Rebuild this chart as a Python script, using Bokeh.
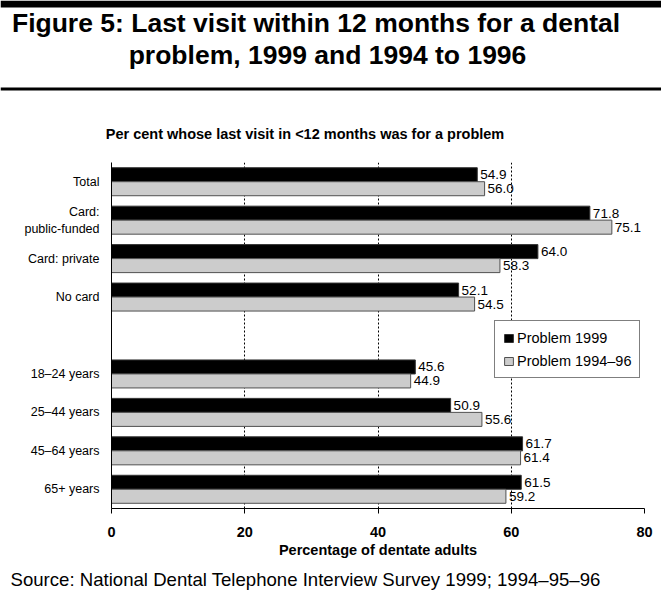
from bokeh.plotting import figure
from bokeh.layouts import column
from bokeh.models import (Range1d, FactorRange, FixedTicker, Label,
                          Legend, LegendItem, ColumnDataSource)
from bokeh.transform import dodge
from bokeh.core.properties import value
from bokeh.embed import file_html
from bokeh.resources import INLINE

# ---------------- data ----------------
categories = ["Total", "Card:\npublic-funded", "Card: private", "No card",
              "18\u201324 years", "25\u201344 years", "45\u201364 years", "65+ years"]
slots = ["Total", "Card:\npublic-funded", "Card: private", "No card", " ",
         "18\u201324 years", "25\u201344 years", "45\u201364 years", "65+ years"]
problem_1999 = [54.9, 71.8, 64.0, 52.1, 45.6, 50.9, 61.7, 61.5]
problem_1994_96 = [56.0, 75.1, 58.3, 54.5, 44.9, 55.6, 61.4, 59.2]
x_ticks = [0, 20, 40, 60, 80]
series_names = ["Problem 1999", "Problem 1994\u201396"]

title_1 = "Figure 5: Last visit within 12 months for a dental"
title_2 = "problem, 1999 and 1994 to 1996"
subtitle = "Per cent whose last visit in <12 months was for a problem"
x_label = "Percentage of dentate adults"
source_text = "Source:  National Dental Telephone Interview Survey 1999; 1994\u201395\u201396"

FONT = "Liberation Sans"
W = 661
H_HEAD, H_MAIN, H_FOOT = 150, 417, 40


def blank_fig(h):
    f = figure(width=W, height=h, x_range=Range1d(0, W), y_range=Range1d(h, 0),
               x_axis_type=None, y_axis_type=None,
               output_backend="svg", toolbar_location=None,
               min_border=0, min_border_left=0, min_border_right=0,
               min_border_top=0, min_border_bottom=0, frame_align=False)
    f.outline_line_color = None
    f.grid.visible = False
    f.background_fill_color = "white"
    f.border_fill_color = "white"
    return f


# ---------------- header ----------------
head = blank_fig(H_HEAD)
# horizontal rules (decoration, in header pixel space)
head.quad(left=[0, 0], right=[W, W], top=[0, 87], bottom=[7, 90],
          fill_color="black", line_color=None)
head.add_layout(Label(x=315.5, y=22, text=title_1, text_align="center",
                      text_baseline="alphabetic", text_font=FONT, text_font_style="bold",
                      text_font_size="26.5px", text_color="black"))
head.add_layout(Label(x=327, y=54, text=title_2, text_align="center",
                      text_baseline="alphabetic", text_font=FONT, text_font_style="bold",
                      text_font_size="26.5px", text_color="black"))
head.add_layout(Label(x=304.5, y=133.5, text=subtitle, text_align="center",
                      text_baseline="alphabetic", text_font=FONT, text_font_style="bold",
                      text_font_size="14.5px", text_color="black"))

# ---------------- main chart ----------------
src = ColumnDataSource(dict(
    cat=categories,
    v99=problem_1999,
    v96=problem_1994_96,
    t99=[f"{v:.1f}" for v in problem_1999],
    t96=[f"{v:.1f}" for v in problem_1994_96],
))

BL, BR, BT = 111, 17, 12
FH = 346
BB = H_MAIN - BT - FH

p = figure(width=W, height=H_MAIN, x_range=Range1d(0, 80),
           y_range=FactorRange(factors=list(reversed(slots))),
           output_backend="svg", toolbar_location=None,
           min_border_left=BL, min_border_right=BR,
           min_border_top=BT, min_border_bottom=BB, frame_align=False)
p.outline_line_color = None
p.background_fill_color = "white"
p.border_fill_color = "white"

off = 0.182
bh = 0.3646
r1 = p.hbar(y=dodge("cat", off, range=p.y_range), left=0, right="v99", height=bh,
            fill_color="black", line_color="#333333", line_width=1, source=src)
r2 = p.hbar(y=dodge("cat", -off, range=p.y_range), left=0, right="v96", height=bh,
            fill_color="#cccccc", line_color="#505050", line_width=1, source=src)

p.text(x="v99", y=dodge("cat", off, range=p.y_range), text="t99", x_offset=3,
       text_baseline="middle", text_align="left", text_font=value(FONT),
       text_font_size="13.5px", text_color="black", source=src)
p.text(x="v96", y=dodge("cat", -off, range=p.y_range), text="t96", x_offset=3,
       text_baseline="middle", text_align="left", text_font=value(FONT),
       text_font_size="13.5px", text_color="black", source=src)

xa = p.xaxis[0]
xa.ticker = FixedTicker(ticks=x_ticks)
xa.axis_label = x_label
xa.axis_label_text_font = FONT
xa.axis_label_text_font_style = "bold"
xa.axis_label_text_font_size = "14.5px"
xa.axis_label_text_color = "black"
xa.axis_label_standoff = 2
xa.major_label_text_font = FONT
xa.major_label_text_font_style = "bold"
xa.major_label_text_font_size = "14.5px"
xa.major_label_text_color = "black"
xa.major_label_standoff = 13
xa.major_tick_out = 5
xa.major_tick_in = 0
xa.major_tick_line_color = "black"
xa.minor_tick_line_color = None
xa.axis_line_color = "black"

ya = p.yaxis[0]
ya.major_label_text_font = FONT
ya.major_label_text_font_size = "12.5px"
ya.major_label_text_color = "black"
ya.major_label_standoff = 12
ya.major_tick_line_color = None
ya.major_tick_out = 0
ya.minor_tick_line_color = None
ya.axis_line_color = "black"

p.xgrid.ticker = FixedTicker(ticks=x_ticks[1:])
p.xgrid.grid_line_color = "black"
p.xgrid.grid_line_dash = "2 2"
p.xgrid.grid_line_width = 1
p.ygrid.visible = False

legend = Legend(items=[LegendItem(label=series_names[0], renderers=[r1]),
                       LegendItem(label=series_names[1], renderers=[r2])],
                location=(383, 130), orientation="vertical",
                border_line_color="black", border_line_width=1,
                background_fill_color="white", background_fill_alpha=1.0,
                padding=8, spacing=6, margin=0,
                glyph_width=11, glyph_height=10, label_standoff=3,
                label_height=17,
                label_text_font=FONT, label_text_font_size="14.5px",
                label_text_color="black")
p.add_layout(legend)

# ---------------- footer ----------------
foot = blank_fig(H_FOOT)
foot.add_layout(Label(x=10, y=11.5, text=source_text, text_align="left",
                      text_baseline="alphabetic", text_font=FONT,
                      text_font_size="18.6px", text_color="black"))

layout = column(head, p, foot, spacing=0)
open("out.html", "w").write(file_html(layout, INLINE))
